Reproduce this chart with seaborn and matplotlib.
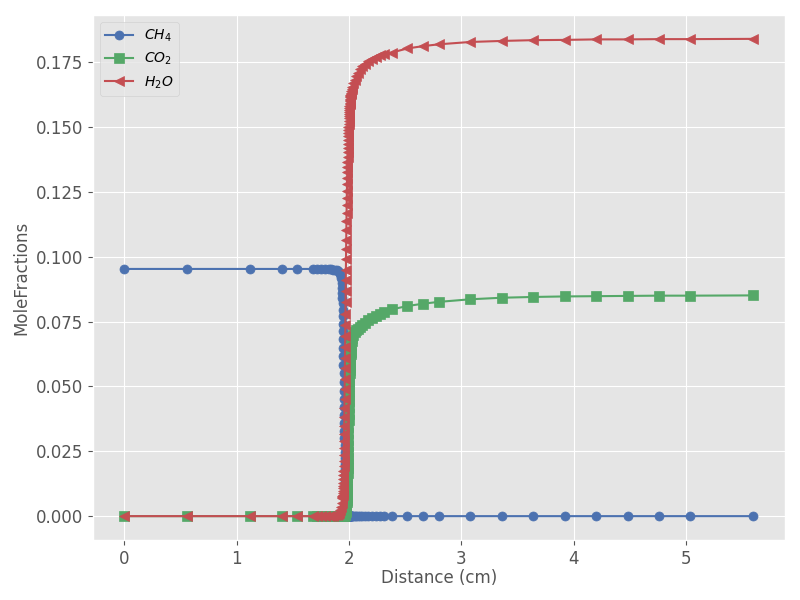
import numpy as np
import pandas as pd
import matplotlib
matplotlib.use("Agg")
import matplotlib.pyplot as plt
import seaborn as sns

# ---------------------------------------------------------------
# Flame profile data (distance in cm, mole fractions)
# ---------------------------------------------------------------
# upstream (unburnt) region
x_up = [0.0, 0.56, 1.12, 1.40, 1.54, 1.68, 1.715, 1.75, 1.785, 1.82,
        1.84, 1.86, 1.875, 1.89, 1.90, 1.91, 1.92, 1.928, 1.934]
ch4_up = [0.0953, 0.0953, 0.0953, 0.0953, 0.0953, 0.0953, 0.0953, 0.0953, 0.0952, 0.0952,
          0.0951, 0.0950, 0.0949, 0.0947, 0.0945, 0.0941, 0.0933, 0.0920, 0.0900]
co2_up = [0.0, 0.0, 0.0, 0.0, 0.0, 0.0, 0.0, 0.0, 0.0, 0.0,
          0.0, 0.0, 0.0, 0.0, 0.0, 0.0, 0.0, 0.0, 0.0]
h2o_up = [0.0, 0.0, 0.0, 0.0, 0.0, 0.0, 0.0, 0.0, 0.00002, 0.00005,
          0.0001, 0.0002, 0.0003, 0.0005, 0.0008, 0.0013, 0.0022, 0.0035, 0.0050]

# flame front (refined grid)
x_front = [1.940, 1.941, 1.942, 1.943, 1.944, 1.945, 1.946, 1.947, 1.948, 1.949,
           1.950, 1.951, 1.952, 1.953, 1.954, 1.955, 1.956, 1.957, 1.958, 1.959,
           1.960, 1.961, 1.962, 1.963, 1.964, 1.965, 1.966, 1.967, 1.968, 1.969,
           1.970, 1.971, 1.972, 1.973, 1.974, 1.975, 1.976, 1.977, 1.978, 1.979,
           1.980, 1.981, 1.982, 1.983, 1.984, 1.985, 1.986, 1.987, 1.988, 1.989,
           1.990, 1.991, 1.992, 1.993, 1.994, 1.995, 1.996, 1.997, 1.998, 1.999,
           2.000, 2.001, 2.002, 2.003, 2.004, 2.005, 2.006, 2.007, 2.008, 2.009,
           2.010, 2.011, 2.012, 2.013, 2.014, 2.015]
ch4_front = [0.0880, 0.0862, 0.0842, 0.0820, 0.0796, 0.0770, 0.0742, 0.0712, 0.0681, 0.0649,
             0.0616, 0.0583, 0.0550, 0.0517, 0.0484, 0.0452, 0.0420, 0.0389, 0.0359, 0.0330,
             0.0302, 0.0275, 0.0249, 0.0225, 0.0202, 0.0180, 0.0160, 0.0141, 0.0124, 0.0108,
             0.0093, 0.0080, 0.0068, 0.0057, 0.0047, 0.0039, 0.0032, 0.0026, 0.0021, 0.0017,
             0.0013, 0.0010, 0.0008, 0.0006, 0.0004, 0.0003, 0.0002, 0.0002, 0.0001, 0.0001,
             0.0, 0.0, 0.0, 0.0, 0.0, 0.0, 0.0, 0.0, 0.0, 0.0,
             0.0, 0.0, 0.0, 0.0, 0.0, 0.0, 0.0, 0.0, 0.0, 0.0,
             0.0, 0.0, 0.0, 0.0, 0.0, 0.0]
co2_front = [0.0000, 0.0000, 0.0000, 0.0000, 0.0000, 0.0001, 0.0001, 0.0001, 0.0001, 0.0001,
             0.0001, 0.0001, 0.0002, 0.0002, 0.0002, 0.0002, 0.0003, 0.0003, 0.0003, 0.0004,
             0.0004, 0.0005, 0.0005, 0.0006, 0.0007, 0.0008, 0.0009, 0.0010, 0.0012, 0.0014,
             0.0016, 0.0018, 0.0021, 0.0024, 0.0028, 0.0032, 0.0037, 0.0043, 0.0049, 0.0056,
             0.0064, 0.0073, 0.0083, 0.0094, 0.0106, 0.0119, 0.0134, 0.0150, 0.0167, 0.0185,
             0.0205, 0.0226, 0.0248, 0.0271, 0.0295, 0.0320, 0.0345, 0.0370, 0.0395, 0.0419,
             0.0442, 0.0464, 0.0484, 0.0503, 0.0520, 0.0536, 0.0550, 0.0563, 0.0575, 0.0586,
             0.0596, 0.0605, 0.0613, 0.0620, 0.0627, 0.0633]
h2o_front = [0.0068, 0.0072, 0.0077, 0.0083, 0.0090, 0.0098, 0.0107, 0.0117, 0.0129, 0.0142,
             0.0157, 0.0174, 0.0193, 0.0214, 0.0237, 0.0262, 0.0289, 0.0318, 0.0349, 0.0382,
             0.0417, 0.0453, 0.0491, 0.0530, 0.0570, 0.0611, 0.0653, 0.0695, 0.0738, 0.0781,
             0.0824, 0.0867, 0.0909, 0.0950, 0.0990, 0.1029, 0.1066, 0.1102, 0.1136, 0.1168,
             0.1198, 0.1227, 0.1254, 0.1279, 0.1303, 0.1325, 0.1346, 0.1366, 0.1385, 0.1403,
             0.1420, 0.1436, 0.1451, 0.1465, 0.1478, 0.1490, 0.1502, 0.1513, 0.1523, 0.1533,
             0.1542, 0.1551, 0.1559, 0.1567, 0.1574, 0.1581, 0.1587, 0.1593, 0.1599, 0.1604,
             0.1609, 0.1614, 0.1618, 0.1622, 0.1626, 0.1630]

# downstream (burnt) region
x_down = [2.020, 2.025, 2.030, 2.040, 2.050, 2.065, 2.080, 2.100, 2.120, 2.140,
          2.170, 2.205, 2.240, 2.275, 2.31, 2.38, 2.52, 2.66, 2.80, 3.08,
          3.36, 3.64, 3.92, 4.20, 4.48, 4.76, 5.04, 5.60]
ch4_down = [0.0] * 28
co2_down = [0.0658, 0.0674, 0.0686, 0.0700, 0.0708, 0.0716, 0.0723, 0.0731, 0.0738, 0.0745,
            0.0755, 0.0764, 0.0772, 0.0780, 0.0786, 0.0797, 0.0810, 0.0819, 0.0826, 0.0836,
            0.0842, 0.0845, 0.0847, 0.0848, 0.0849, 0.0850, 0.0850, 0.0851]
h2o_down = [0.1640, 0.1648, 0.1656, 0.1670, 0.1682, 0.1697, 0.1710, 0.1724, 0.1735, 0.1744,
            0.1754, 0.1763, 0.1770, 0.1776, 0.1780, 0.1787, 0.1803, 0.1812, 0.1819, 0.1828,
            0.1832, 0.1835, 0.1836, 0.1838, 0.1838, 0.1839, 0.1839, 0.1840]

distance = x_up + x_front + x_down
species = {
    "CH4": ch4_up + ch4_front + ch4_down,
    "CO2": co2_up + co2_front + co2_down,
    "H2O": h2o_up + h2o_front + h2o_down,
}
labels = {"CH4": "$CH_4$", "CO2": "$CO_2$", "H2O": "$H_2O$"}
markers = {"CH4": "o", "CO2": "s", "H2O": "<"}
colors = {"CH4": "#4C72B0", "CO2": "#55A868", "H2O": "#C44E52"}

df = pd.DataFrame({"Distance": distance, **species})

# ---------------------------------------------------------------
# Plot
# ---------------------------------------------------------------
plt.style.use("ggplot")
plt.rcParams["xtick.labelsize"] = 12
plt.rcParams["ytick.labelsize"] = 12
plt.rcParams["axes.labelsize"] = 12

fig, ax = plt.subplots(figsize=(8, 6), dpi=100)
for sp in ["CH4", "CO2", "H2O"]:
    sns.lineplot(data=df, x="Distance", y=sp, ax=ax, sort=False, estimator=None,
                 color=colors[sp], marker=markers[sp], markersize=6.5,
                 markeredgecolor=colors[sp], markeredgewidth=0.5,
                 linewidth=1.5, label=labels[sp])

ax.set_xlabel("Distance (cm)", labelpad=1)
ax.set_ylabel("MoleFractions")
ax.set_yticks(np.arange(0, 0.176, 0.025))
ax.yaxis.set_major_formatter(matplotlib.ticker.FormatStrFormatter("%.3f"))
ax.legend(loc="upper left")

fig.subplots_adjust(left=0.116, right=0.981, bottom=0.1, top=0.975)
fig.savefig("out.png", dpi=100)
